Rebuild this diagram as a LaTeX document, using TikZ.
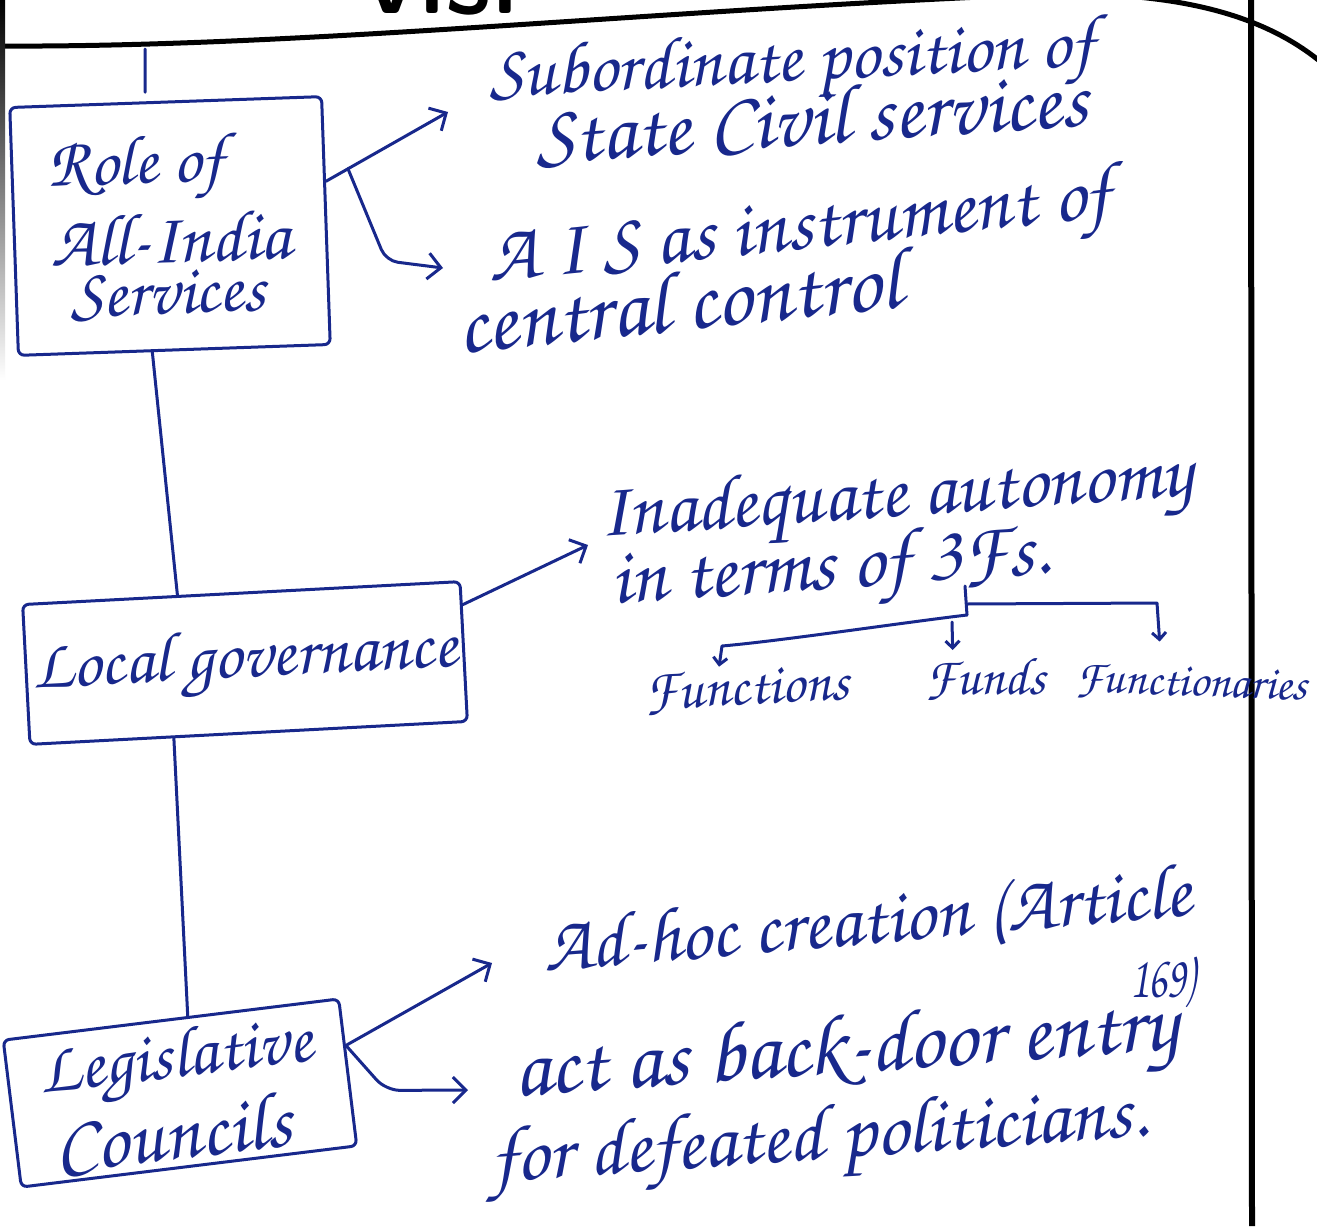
\documentclass[tikz,border=0pt]{standalone}
\usepackage[T1,TU]{fontenc}
\usepackage{graphicx}
\usetikzlibrary{arrows.meta,calc}
\definecolor{ink}{RGB}{24,40,140}
% calligraphic hand for the notes
\newcommand\handfont{\fontencoding{T1}\fontfamily{pzc}\fontseries{mb}\fontshape{it}\selectfont}
% a line of notes set to a given width (in pt)
\newcommand\hw[2]{\resizebox{#1pt}{!}{\handfont #2}}
% a line of notes set to a given width and height (in pt)
\newcommand\hwh[3]{\resizebox{#1pt}{#2pt}{\handfont #3}}

\begin{document}
\begin{tikzpicture}[x=1pt,y=-1pt,
  inkline/.style={draw=ink,line width=3pt,line cap=round,line join=round},
  topic/.style={inkline,rounded corners=6pt,inner sep=0pt,text=ink,align=left},
  note/.style={text=ink,inner sep=0pt,anchor=base west},
  arr/.style={inkline,-{Straight Barb[length=13pt,width=26pt]}},
  tick/.style={inkline,-{Straight Barb[length=7pt,width=14pt]}},
  rulebar/.style={draw=black,line width=5pt}]

\useasboundingbox (0,0) rectangle (1317,1226);
\clip (0,0) rectangle (1317,1226);
\fill[white] (0,0) rectangle (1317,1226);

% page header: cut-off logo, wave line, margin rules
\begin{scope}
  \clip (0,0) rectangle (1317,14);
  \node[anchor=base west,inner sep=0pt,font=\sffamily\bfseries\fontsize{78}{80}\selectfont] (logo) at (362,13) {VISI};
\end{scope}
\draw[rulebar] (-5,46) .. controls (300,48) and (650,10) .. (1050,-6)
               .. controls (1180,-8) and (1270,15) .. (1330,70);
\draw[black,line width=6pt] (1251,0) -- (1252,1226);
\shade[top color=black,bottom color=white] (0,0) rectangle (5,380);
\coordinate (hdr) at (145,49);

% topic boxes
\node[topic,minimum width=312pt,minimum height=248pt,rotate=2] (b1) at (170,226)
  {\hw{175}{Role of}\\[6pt]\hw{240}{All-India}\\[6pt]\hspace*{18pt}\hw{195}{Services}};
\node[topic,minimum width=438pt,minimum height=140pt,rotate=3] (b2) at (245,663)
  {\hw{425}{Local governance}};
\node[topic,minimum width=338pt,minimum height=148pt,rotate=7] (b3) at (180,1093)
  {\hw{275}{Legislative}\\[2pt]\hspace*{6pt}\hw{238}{Councils}};

% notes
\node[note,rotate=3] (t1a) at (490,97) {\hw{605}{Subordinate position of}};
\node[note,rotate=4] (t1b) at (537,164) {\hw{553}{State Civil services}};
\node[note,rotate=6] (t2a) at (490,282) {\hw{625}{A I S as instrument of}};
\node[note,rotate=6] (t2b) at (460,354) {\hw{445}{central control}};
\node[note,rotate=4] (t3a) at (600,537) {\hw{595}{Inadequate autonomy}};
\node[note,rotate=4] (t3b) at (612,604) {\hw{440}{in terms of 3Fs.}};
\node[note,rotate=3] (fa) at (645,710) {\hw{205}{Functions}};
\node[note] (fb) at (925,694) {\hw{120}{Funds}};
\node[note,rotate=-2] (fc) at (1075,692) {\hw{232}{Functionaries}};
\node[note,rotate=5] (t4a) at (545,972) {\hw{650}{Ad-hoc creation (Article}};
\node[note] (t4b) at (1130,997) {\hwh{65}{40}{169)}};
\node[note,rotate=4] (t5a) at (515,1096) {\hw{665}{act as back-door entry}};
\node[note,rotate=4] (t5b) at (492,1182) {\hw{658}{for defeated politicians.}};

% spine
\draw[inkline] (hdr) -- ($(b1.north west)!0.435!(b1.north east)+(0,-9)$);
\draw[inkline] ($(b1.south west)!0.43!(b1.south east)$) -- ($(b2.north west)!0.355!(b2.north east)$);
\draw[inkline] ($(b2.south west)!0.33!(b2.south east)$) -- ($(b3.north west)!0.55!(b3.north east)$);

% branches of the first box
\coordinate (s1) at (b1.14);
\coordinate (tip1) at ($(t1a.base west)+(-42,15)$);
\coordinate (tip2) at ($(t2a.base west)+(-47,-14)$);
\coordinate (br1) at ($(s1)!0.18!(tip1)$);
\draw[arr] (s1) -- (tip1);
\draw[arr,rounded corners=12pt] (br1) -- ++(38,92) -- (tip2);

% branch of the second box
\draw[arr] (b2.12) -- ($(t3a.base west)+(-12,8)$);

% the three Fs
\coordinate (j) at (967,615);
\coordinate (jb) at (952,622);
\coordinate (jr) at (967,604);
\draw[inkline] ($(t3b.base west)+(353,-18)$) -- (j);
\draw[tick] (j) .. controls (900,623) and (780,641) .. (722,646)
  -- ($(fa.north west)!0.37!(fa.north east)+(0,-4)$);
\draw[tick] (jb) -- ($(fb.north west)!0.23!(fb.north east)+(0,-6)$);
\draw[tick] (jr) -- (1157,603) -- ($(fc.north west)!0.36!(fc.north east)+(0,-24)$);

% branches of the third box
\coordinate (s4) at (b3.9);
\draw[arr] (s4) -- ($(t4a.base west)+(-53,-9)$);
\draw[arr,rounded corners=14pt] (s4) -- ++(40,45) -- ($(t5a.base west)+(-47,-6)$);
\end{tikzpicture}
\end{document}
